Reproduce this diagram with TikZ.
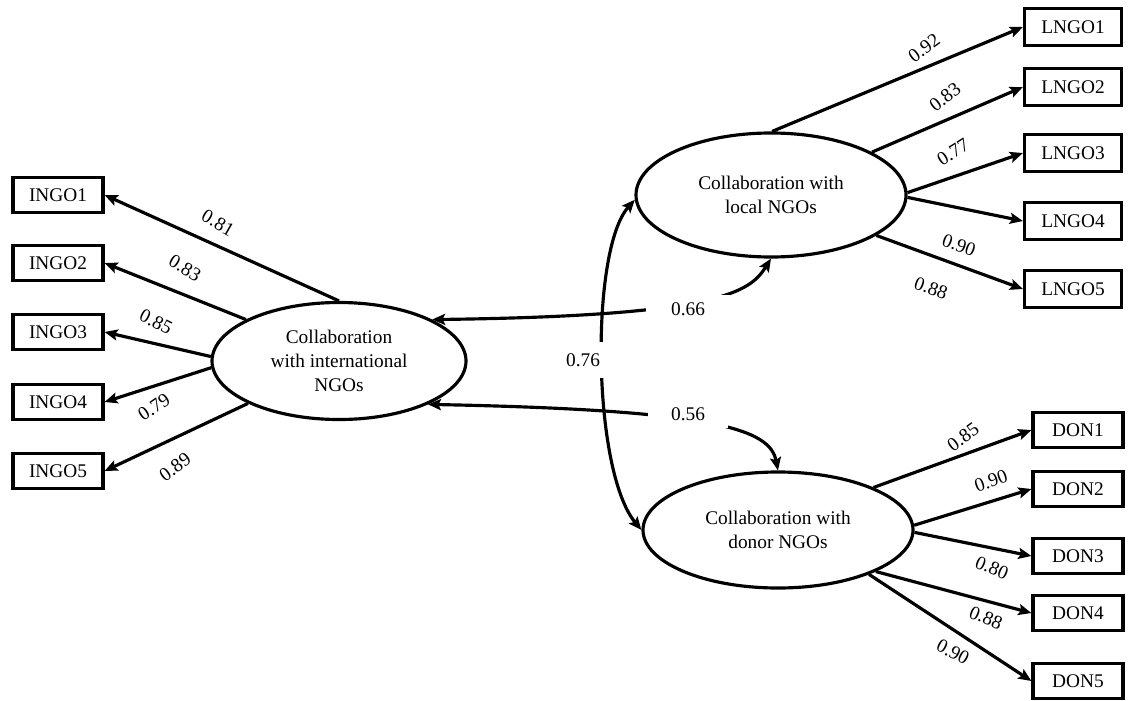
\documentclass[tikz,border=0pt]{standalone}
\usepackage{fontspec}
\setmainfont{Liberation Serif}
\usepackage{xcolor}
\usepackage{tikz}
\usetikzlibrary{arrows.meta, positioning, shapes.geometric}

\begin{document}
\begin{tikzpicture}[
    font=\fontsize{11}{13.6}\selectfont,
    latent/.style={draw, ellipse, line width=1.8pt, align=center, inner sep=0pt},
    item/.style={draw, line width=1.8pt, minimum width=1.8cm, minimum height=0.7cm, inner sep=0pt},
    coef/.style={inner sep=1pt},
    gapbox/.style={fill=white, inner ysep=4pt},
    load/.style={-{Stealth[length=2.6mm, width=2.2mm, inset=0.5mm]}, line width=1.8pt},
    cov/.style={{Stealth[length=2.6mm, width=2.2mm, inset=0.5mm]}-{Stealth[length=2.6mm, width=2.2mm, inset=0.5mm]}, line width=1.8pt}
  ]
    \useasboundingbox (0,0) rectangle (22.92,-14);
    % three latent factors, indicators on the outside
    \node[latent, minimum width=5.08cm, minimum height=2.34cm] (intl) at (6.78,-7.22) {Collaboration\\with international\\NGOs};
    \node[latent, minimum width=5.4cm, minimum height=2.48cm] (local) at (15.42,-3.90) {Collaboration with\\local NGOs};
    \node[latent, minimum width=5.4cm, minimum height=2.32cm] (donor) at (15.56,-10.60) {Collaboration with\\donor NGOs};
    \foreach \i/\y in {1/-3.90, 2/-5.26, 3/-6.64, 4/-8.04, 5/-9.42}
      \node[item] (ingo\i) at (1.16,\y) {INGO\i};
    \foreach \i/\y in {1/-0.54, 2/-1.74, 3/-3.06, 4/-4.42, 5/-5.78}
      \node[item, minimum width=1.94cm, minimum height=0.74cm] (lngo\i) at (21.46,\y) {LNGO\i};
    \foreach \i/\y in {1/-8.60, 2/-9.78, 3/-11.12, 4/-12.26, 5/-13.62}
      \node[item] (don\i) at (21.56,\y) {DON\i};
    \foreach \a/\i in {90/1, 156/2, 178/3, 183/4, 205/5}
      \draw[load] (intl.\a) -- (ingo\i.east);
    \foreach \a/\i in {89/1, 23/2, 1/3, -1/4, -21/5}
      \draw[load] (local.\a) -- (lngo\i.west);
    \foreach \a/\i in {24/1, 2/2, -1/3, -23/4, -26/5}
      \draw[load] (donor.\a) -- (don\i.west);
    \foreach \n/\x/\y/\r/\t in {ci1/4.36/-4.46/-30/0.81, ci2/3.70/-5.36/-31/0.83, ci3/3.12/-6.44/-27/0.85,
        ci4/3.08/-8.14/34/0.79, ci5/3.50/-9.34/36/0.89,
        cl1/18.48/-0.96/36/0.92, cl2/18.90/-1.94/38/0.83, cl3/19.06/-3.04/32/0.77,
        cl4/19.18/-4.90/-20/0.90, cl5/18.62/-5.76/-20/0.88,
        cd1/19.26/-8.74/36/0.85, cd2/19.82/-9.62/20/0.90, cd3/19.84/-11.36/-23/0.80,
        cd4/19.72/-12.36/-23/0.88, cd5/19.06/-13.04/-28/0.90}
      \node[coef, rotate=\r] (\n) at (\x,\y) {\t};
    \draw[cov] (intl.24) .. controls (14.40,-6.32) and (15.00,-5.84) .. (local.270);
    \draw[cov] (intl.-26) .. controls (14.40,-8.20) and (15.40,-8.60) .. (donor.90);
    \draw[cov] (local.182) .. controls (11.80,-5.00) and (11.84,-9.40) .. (donor.180);
    \node[gapbox, inner xsep=14pt] (r66) at (13.76,-6.18) {0.66};
    \node[gapbox, inner xsep=13pt] (r56) at (13.76,-8.28) {0.56};
    \node[gapbox, inner xsep=4pt, inner ysep=6.5pt] (r76) at (11.66,-7.20) {0.76};
\end{tikzpicture}
\end{document}
